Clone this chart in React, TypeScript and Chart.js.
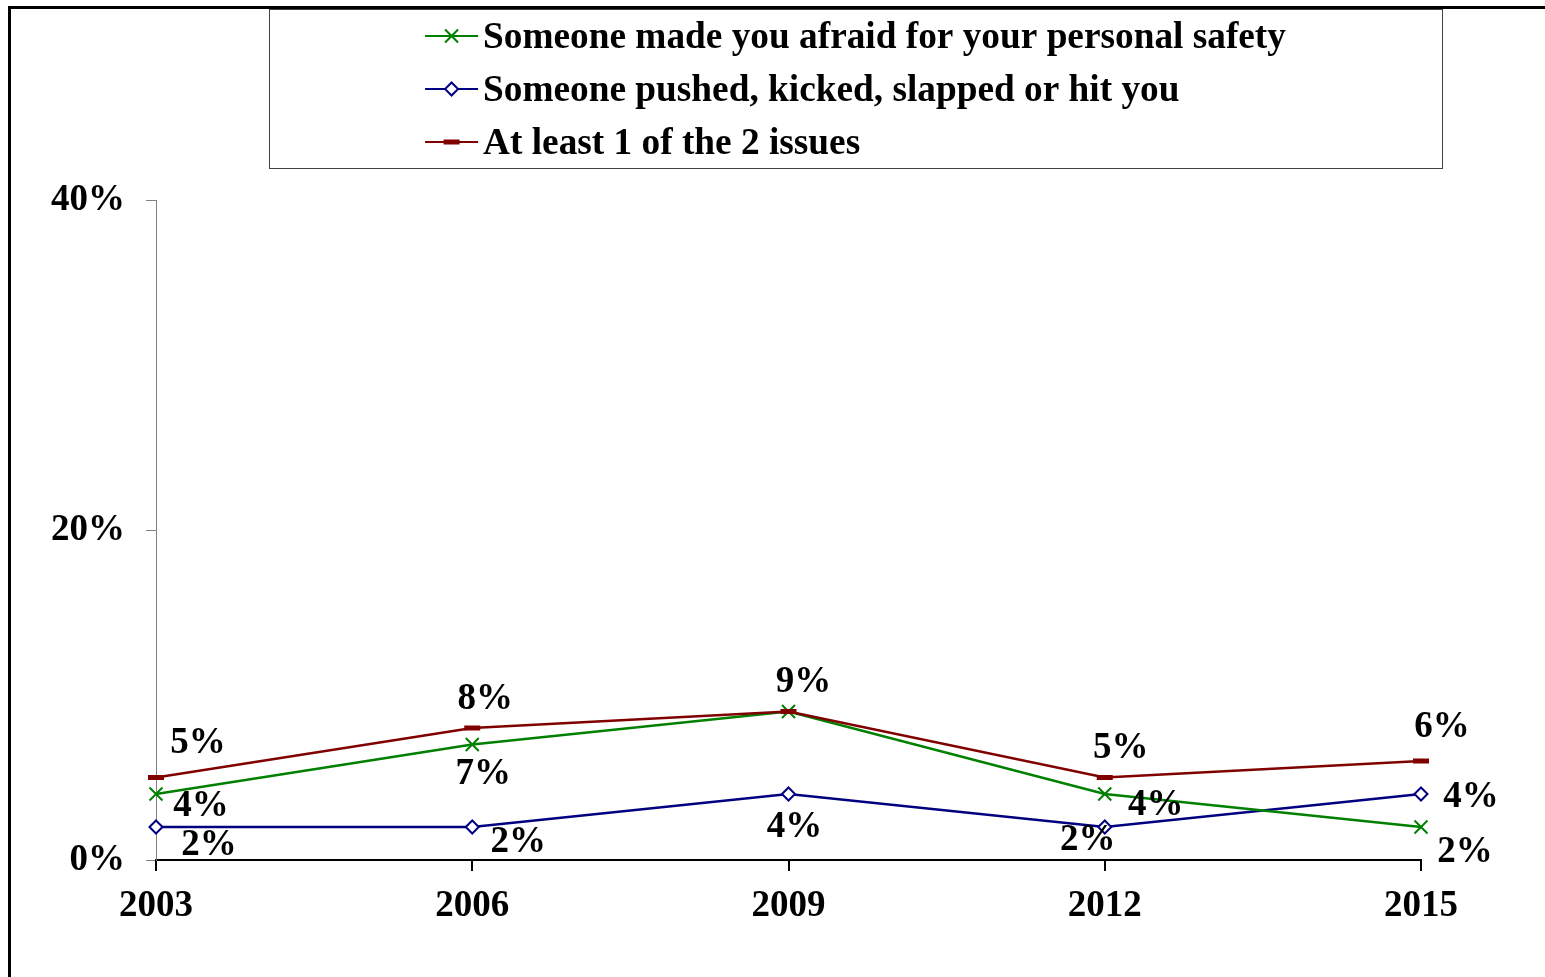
import React, { useEffect, useRef } from "react";
import { Chart, registerables } from "chart.js";

Chart.register(...registerables);

// ---- data ----
const years = ["2003", "2006", "2009", "2012", "2015"];
const afraidValues = [4, 7, 9, 4, 2];
const pushedValues = [2, 2, 4, 2, 4];
const atLeastOneValues = [5, 8, 9, 5, 6];
const yTickValues = [0, 20, 40];
const seriesNames = [
  "Someone made you afraid for your personal safety",
  "Someone pushed, kicked, slapped or hit you",
  "At least 1 of the 2 issues",
];

// ---- styling / placement (not data) ----
const FONT = "'Liberation Serif', 'Times New Roman', serif";
const FSIZE = 37;
const LEGEND_FSIZE = 37.3;
const GREEN = "#008000";
const BLUE = "#000080";
const RED = "#800000";

// label offsets in px relative to each point (null = no label)
const labelOffsets: Record<string, ([number, number] | null)[]> = {
  afraid: [[45, 12], [11, 30], null, [51, 11], [44, 25]],
  pushed: [[53, 18], [46, 15], [6, 33], [-17, 13], [50, 3]],
  atLeastOne: [[42, -34], [13, -29], [15, -29], [16, -29], [21, -34]],
};

function drawMarker(ctx: CanvasRenderingContext2D, kind: string, x: number, y: number, color: string) {
  ctx.save();
  ctx.strokeStyle = color;
  ctx.fillStyle = "#ffffff";
  if (kind === "cross") {
    const r = 6.5;
    ctx.lineWidth = 2;
    ctx.beginPath();
    ctx.moveTo(x - r, y - r);
    ctx.lineTo(x + r, y + r);
    ctx.moveTo(x - r, y + r);
    ctx.lineTo(x + r, y - r);
    ctx.stroke();
  } else if (kind === "diamond") {
    const r = 6.5;
    ctx.lineWidth = 2;
    ctx.beginPath();
    ctx.moveTo(x, y - r);
    ctx.lineTo(x + r, y);
    ctx.lineTo(x, y + r);
    ctx.lineTo(x - r, y);
    ctx.closePath();
    ctx.fill();
    ctx.stroke();
  } else {
    ctx.lineWidth = 5;
    ctx.beginPath();
    ctx.moveTo(x - 8, y);
    ctx.lineTo(x + 8, y);
    ctx.stroke();
  }
  ctx.restore();
}

const legendPlugin = {
  id: "boxLegend",
  afterDraw(chart: any) {
    const ctx: CanvasRenderingContext2D = chart.ctx;
    ctx.save();
    ctx.strokeStyle = "#404040";
    ctx.lineWidth = 1;
    ctx.strokeRect(269.5, 9.5, 1173, 159);
    ctx.font = `bold ${LEGEND_FSIZE}px ${FONT}`;
    ctx.fillStyle = "#000";
    ctx.textBaseline = "middle";
    ctx.textAlign = "left";
    const maxW = Math.max(...seriesNames.map((t) => ctx.measureText(t).width));
    const sample = 53;
    const gap = 5;
    const colW = sample + gap + maxW;
    const x0 = 269 + (1173 - colW) / 2;
    const colors = [GREEN, BLUE, RED];
    const kinds = ["cross", "diamond", "dash"];
    seriesNames.forEach((name, i) => {
      const y = 36 + i * 53;
      ctx.strokeStyle = colors[i];
      ctx.lineWidth = 2;
      ctx.beginPath();
      ctx.moveTo(x0, y);
      ctx.lineTo(x0 + sample, y);
      ctx.stroke();
      drawMarker(ctx, kinds[i], x0 + sample / 2, y, colors[i]);
      ctx.fillStyle = "#000";
      ctx.fillText(name, x0 + sample + gap, y + 2);
    });
    ctx.restore();
  },
};

const labelPlugin = {
  id: "pointLabels",
  afterDatasetsDraw(chart: any) {
    const ctx: CanvasRenderingContext2D = chart.ctx;
    ctx.save();
    ctx.font = `bold ${FSIZE}px ${FONT}`;
    ctx.fillStyle = "#000";
    ctx.textAlign = "center";
    ctx.textBaseline = "middle";
    chart.data.datasets.forEach((ds: any, di: number) => {
      const meta = chart.getDatasetMeta(di);
      const offs = labelOffsets[ds.key];
      meta.data.forEach((pt: any, i: number) => {
        const o = offs[i];
        if (!o) return;
        ctx.fillText(`${ds.data[i]}%`, pt.x + o[0], pt.y + o[1]);
      });
    });
    ctx.restore();
  },
};

export default function App() {
  const canvasRef = useRef<HTMLCanvasElement | null>(null);

  useEffect(() => {
    document.body.style.margin = "0";
    const canvas = canvasRef.current;
    if (!canvas) return;
    const chart = new Chart(canvas, {
      type: "line",
      data: {
        labels: years,
        datasets: [
          {
            key: "atLeastOne",
            label: seriesNames[2],
            data: atLeastOneValues,
            borderColor: RED,
            backgroundColor: RED,
            borderWidth: 2.5,
            pointStyle: "line",
            pointRadius: 8,
            pointBorderWidth: 5,
            pointBorderColor: RED,
            order: 0,
          },
          {
            key: "afraid",
            label: seriesNames[0],
            data: afraidValues,
            borderColor: GREEN,
            backgroundColor: GREEN,
            borderWidth: 2.5,
            pointStyle: "crossRot",
            pointRadius: 9.2,
            pointBorderWidth: 2,
            pointBorderColor: GREEN,
            order: 1,
          },
          {
            key: "pushed",
            label: seriesNames[1],
            data: pushedValues,
            borderColor: BLUE,
            backgroundColor: "#ffffff",
            borderWidth: 2.5,
            pointStyle: "rectRot",
            pointRadius: 6.5,
            pointBorderWidth: 2,
            pointBorderColor: BLUE,
            pointBackgroundColor: "#ffffff",
            order: 2,
          },
        ] as any,
      },
      options: {
        animation: false,
        responsive: false,
        events: [],
        layout: { padding: { left: 0, top: 200, right: 124, bottom: 0 } },
        plugins: {
          legend: { display: false },
          tooltip: { enabled: false },
        },
        scales: {
          x: {
            offset: false,
            grid: {
              display: true,
              drawOnChartArea: false,
              drawTicks: true,
              tickLength: 11,
              color: "#000",
              lineWidth: 2,
            },
            border: { display: true, color: "#000", width: 2 },
            ticks: {
              color: "#000",
              font: { family: FONT, size: FSIZE, weight: "bold" },
              padding: 13,
              maxRotation: 0,
            },
            afterFit: (axis: any) => {
              axis.height = 117;
            },
          },
          y: {
            min: 0,
            max: 40,
            afterBuildTicks: (axis: any) => {
              axis.ticks = yTickValues.map((v) => ({ value: v }));
            },
            grid: {
              display: true,
              drawOnChartArea: false,
              drawTicks: true,
              tickLength: 10,
              color: "#808080",
              lineWidth: 1,
            },
            border: { display: true, color: "#808080", width: 1 },
            ticks: {
              color: "#000",
              font: { family: FONT, size: FSIZE, weight: "bold" },
              padding: 21,
              callback: (v: any) => `${v}%`,
            },
            afterFit: (axis: any) => {
              axis.width = 156;
            },
          },
        },
      },
      plugins: [legendPlugin, labelPlugin],
    });
    return () => chart.destroy();
  }, []);

  return (
    <div style={{ position: "relative", width: 1545, height: 977, overflow: "hidden", background: "#fff" }}>
      <canvas ref={canvasRef} width={1545} height={977} style={{ position: "absolute", left: 0, top: 0, width: 1545, height: 977 }} />
      <div
        style={{
          position: "absolute",
          left: 8,
          top: 6,
          right: 0,
          bottom: 0,
          borderTop: "3px solid #000",
          borderLeft: "3px solid #000",
          pointerEvents: "none",
        }}
      />
    </div>
  );
}
